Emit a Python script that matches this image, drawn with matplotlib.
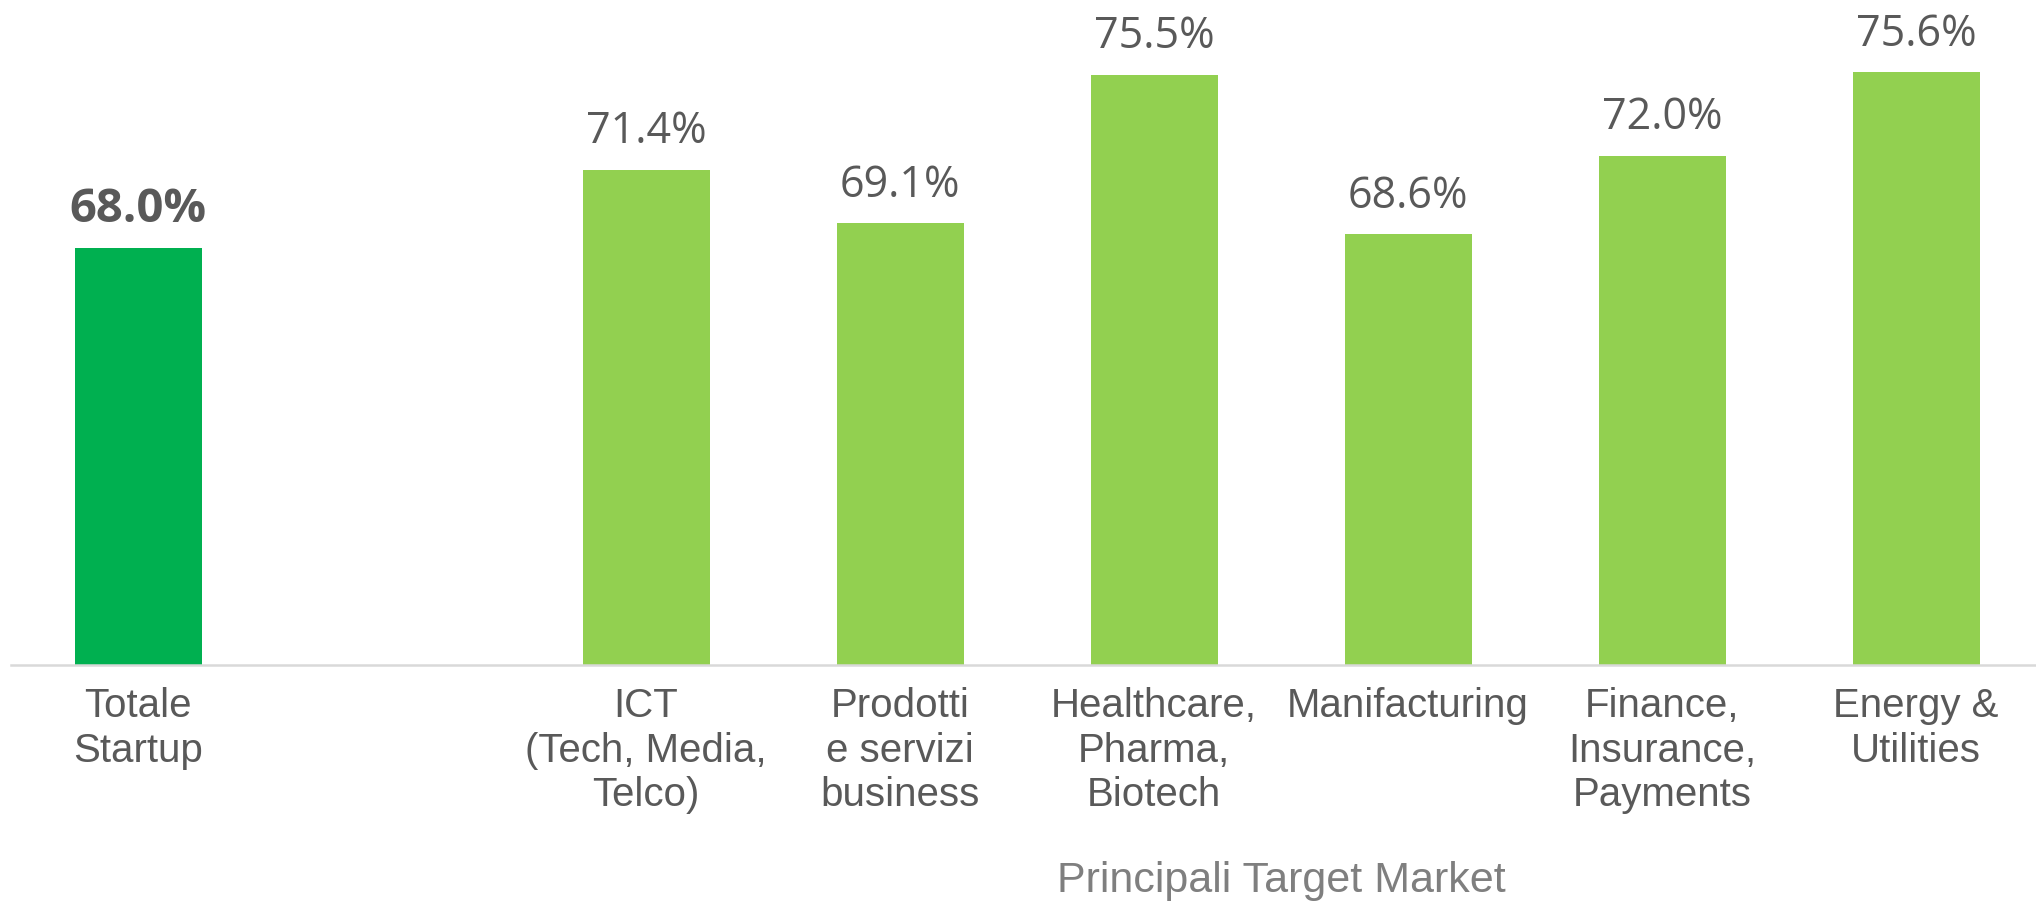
import matplotlib
matplotlib.use("Agg")
import matplotlib.pyplot as plt
import matplotlib.transforms as mtransforms
import numpy as np

# data (empty slot separates the total from the target markets)
categories = ["Totale\nStartup", "",
              "ICT\n(Tech, Media,\nTelco)",
              "Prodotti\ne servizi\nbusiness",
              "Healthcare,\nPharma,\nBiotech",
              "Manifacturing",
              "Finance,\nInsurance,\nPayments",
              "Energy &\nUtilities"]
values = [68.0, None, 71.4, 69.1, 75.5, 68.6, 72.0, 75.6]
bar_colors = ["#00B050", None, "#92D050", "#92D050", "#92D050",
              "#92D050", "#92D050", "#92D050"]
group_title = "Principali Target Market"

txt = "#595959"

fig = plt.figure(figsize=(20.36, 9.01), dpi=100)
ax = fig.add_axes([11 / 2036, 236 / 901, 2032 / 2036, 665 / 901])

x = np.arange(len(categories))
for i, v in enumerate(values):
    if v is None:
        continue
    ax.bar(x[i], v - 50, bottom=50, width=0.5, color=bar_colors[i], zorder=2)
    bold = (i == 0)
    ax.annotate("%.1f%%" % v, (x[i], v), xytext=(0, 11), textcoords="offset points",
                ha="center", va="bottom", color=txt,
                fontsize=34 if bold else 31,
                fontweight="bold" if bold else "normal",
                family=["Open Sans", "DejaVu Sans"])

ax.set_xlim(-0.5, len(categories) - 0.5)
ax.set_ylim(50, 50 + 665 / 23.15)

ax.set_xticks(x)
ax.set_xticklabels(categories, fontsize=29, color=txt, family="Liberation Sans",
                   linespacing=1.22)
ax.tick_params(axis="x", length=0, pad=16)
ax.set_yticks([])

for s in ["top", "right", "left"]:
    ax.spines[s].set_visible(False)
ax.spines["bottom"].set_color("#D9D9D9")
ax.spines["bottom"].set_linewidth(1.8)

# group title under the target market categories
trans = mtransforms.blended_transform_factory(ax.transData, fig.transFigure)
ax.text(np.mean(x[2:]), 9 / 901, group_title, transform=trans, ha="center",
        va="baseline", fontsize=31, color="#7F7F7F", family="Liberation Sans")

fig.savefig("out.png", dpi=100)
